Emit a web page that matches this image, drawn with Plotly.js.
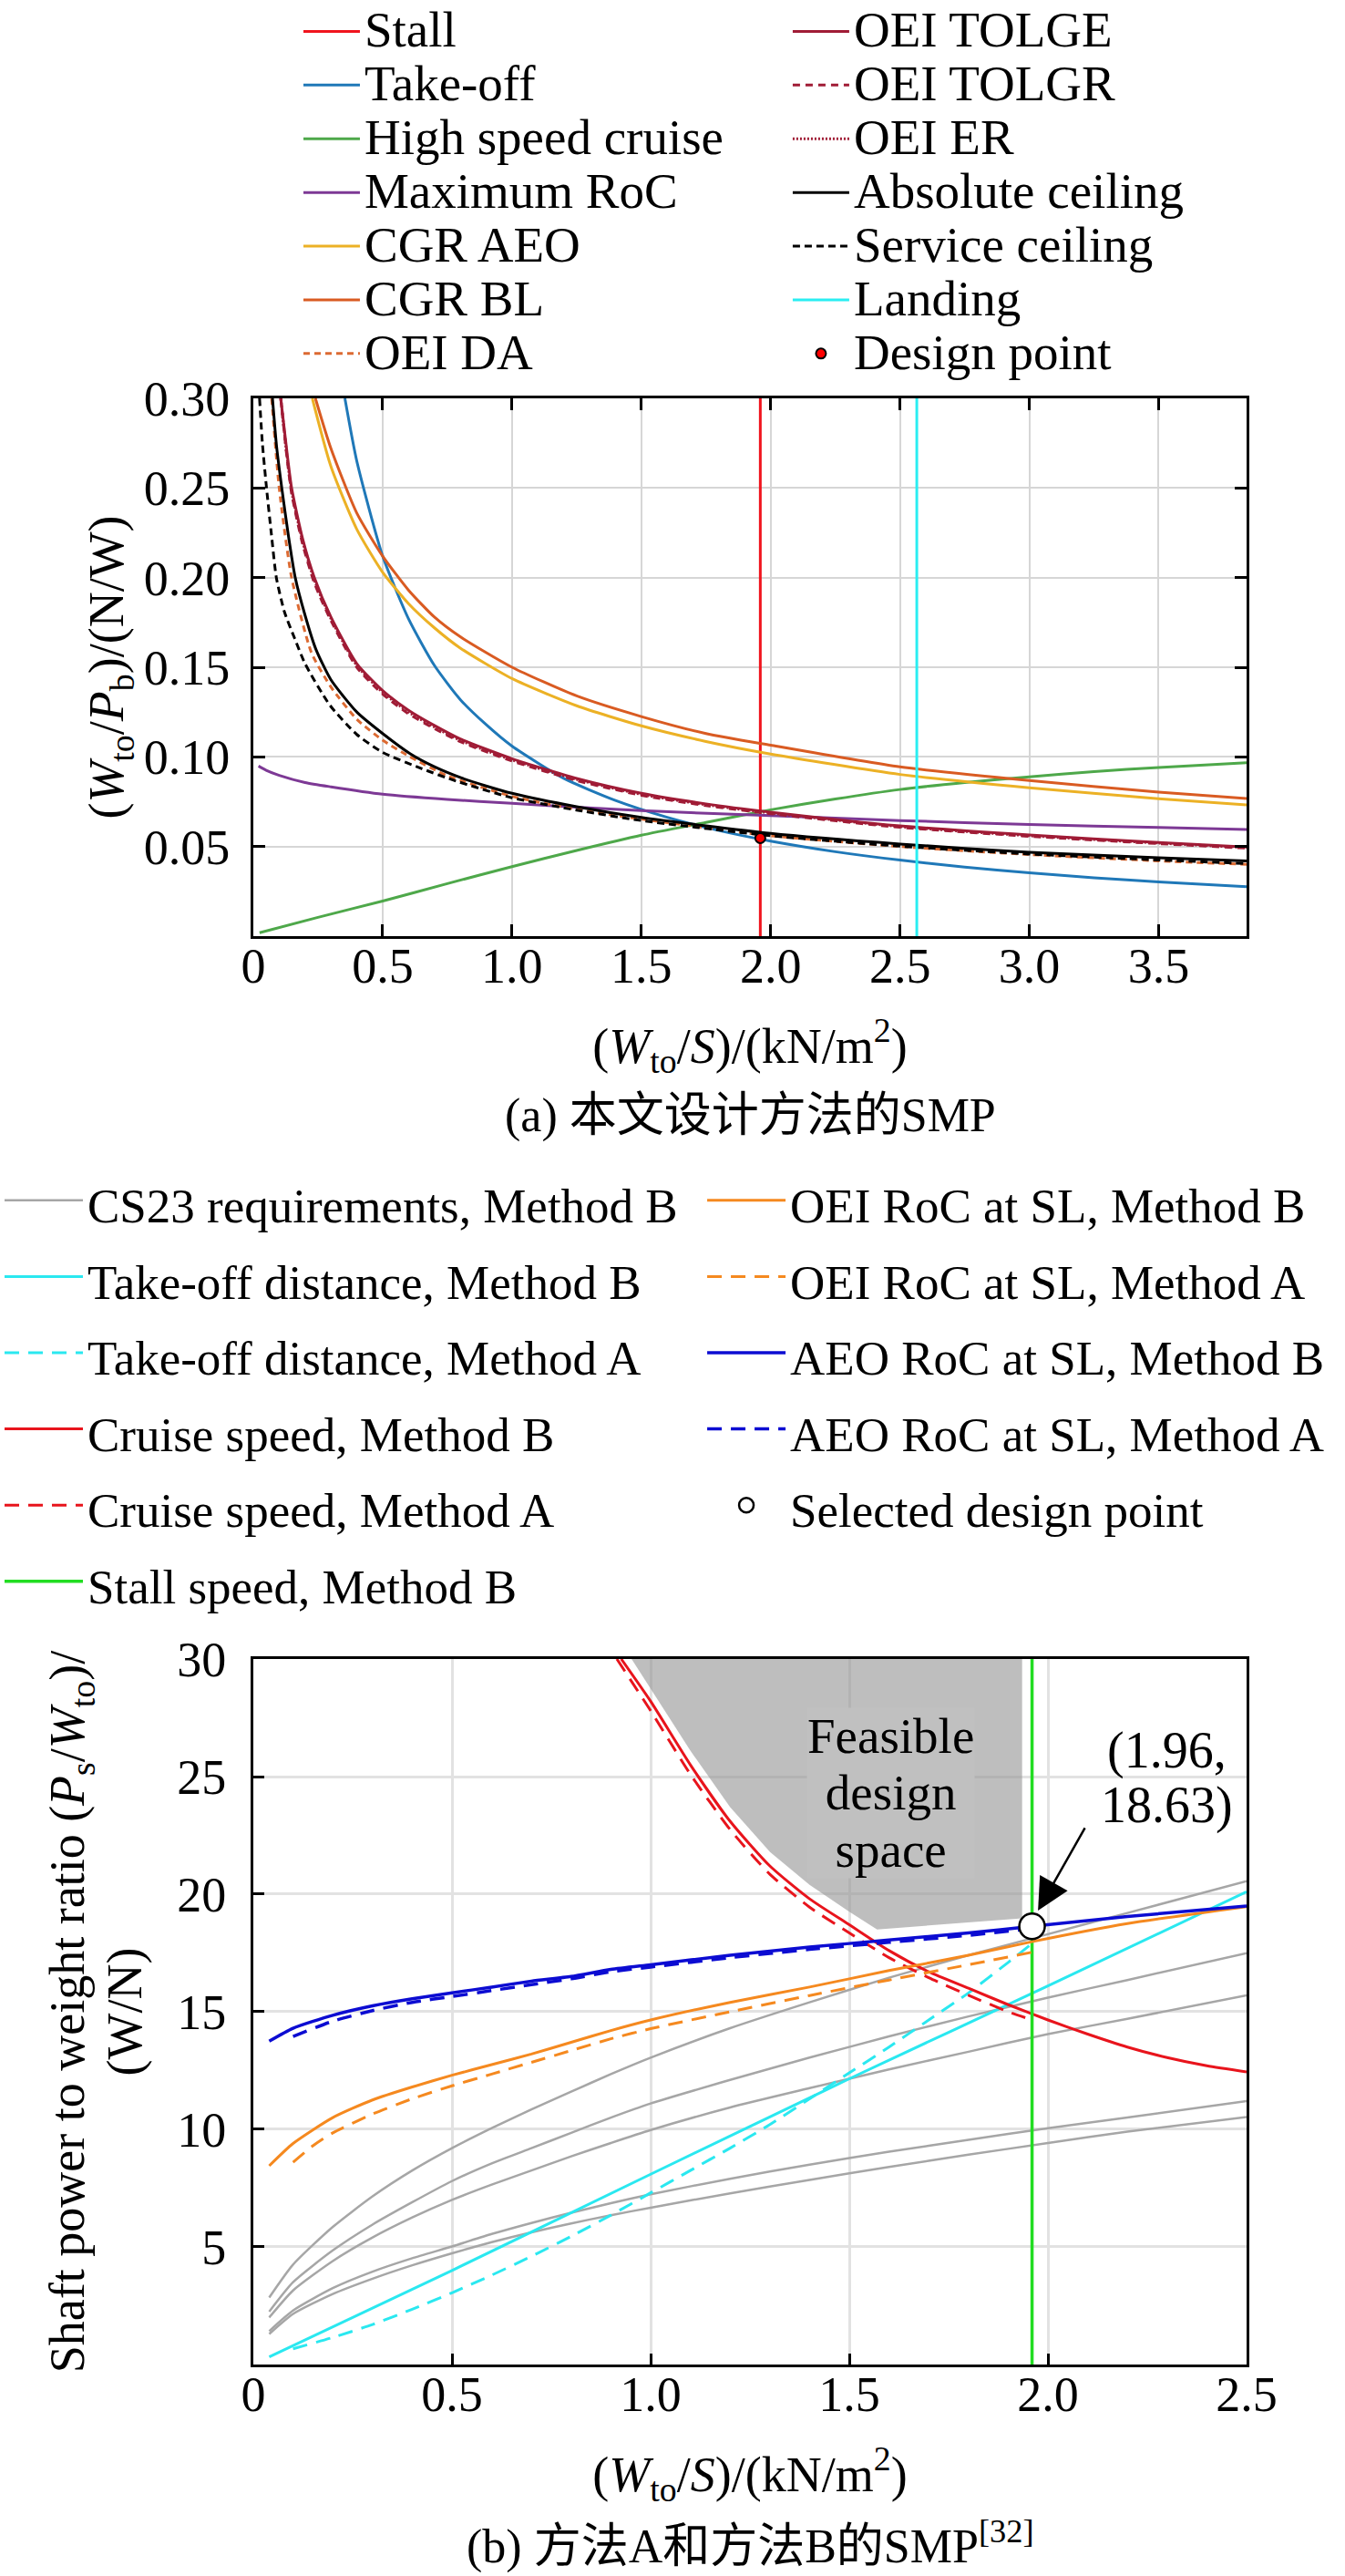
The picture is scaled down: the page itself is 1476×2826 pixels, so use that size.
<!DOCTYPE html>
<html><head><meta charset="utf-8">
<script src="https://cdn.plot.ly/plotly-3.0.1.min.js"></script>
<style>html,body{margin:0;padding:0;background:#fff}#chart{width:1476px;height:2826px}</style>
</head><body><div id="chart"></div>
<script>
// ---------- (a) top chart data ----------
const stallX = [1.96, 1.96];
const stallY = [0, 0.30];
const landingX = [2.565, 2.565];
const landingY = [0, 0.30];
const takeoffX = [0.354,0.4,0.5,0.6,0.7,0.8,0.9,1.0,1.2,1.4,1.6,1.8,2.0,2.25,2.5,2.75,3.0,3.25,3.5,3.84];
const takeoffY = [0.300,0.265,0.212,0.177,0.151,0.132,0.118,0.106,0.088,0.0757,0.0663,0.0589,0.0530,0.0471,0.0424,0.0385,0.0353,0.0326,0.0303,0.0276];
const hscX = [0.024,0.25,0.5,0.75,1.0,1.25,1.5,1.75,2.0,2.25,2.5,2.75,3.0,3.25,3.5,3.84];
const hscY = [0.0019,0.0105,0.0196,0.0293,0.0388,0.0478,0.0563,0.0634,0.0705,0.0765,0.0818,0.0857,0.0889,0.0918,0.0941,0.0968];
const rocX = [0.02,0.05,0.1,0.2,0.3,0.5,0.75,1.0,1.25,1.5,2.0,2.5,3.0,3.5,3.84];
const rocY = [0.0949,0.0925,0.0897,0.0857,0.0833,0.0792,0.0763,0.0741,0.0719,0.0700,0.0672,0.0645,0.0623,0.0606,0.0595];
const cgrAeoX = [0.228,0.3,0.4,0.5,0.6,0.7,0.8,1.0,1.25,1.5,1.75,2.0,2.5,3.0,3.5,3.84];
const cgrAeoY = [0.300,0.262,0.227,0.203,0.1855,0.172,0.1607,0.1437,0.1285,0.1173,0.1086,0.1016,0.0902,0.0828,0.0767,0.0732];
const cgrBlX = [0.24,0.3,0.4,0.5,0.6,0.7,0.8,1.0,1.25,1.5,1.75,2.0,2.5,3.0,3.5,3.84];
const cgrBlY = [0.300,0.272,0.236,0.212,0.193,0.178,0.167,0.150,0.134,0.1225,0.113,0.1065,0.0944,0.0868,0.0803,0.0768];
const oeiDaX = [0.071,0.1,0.148,0.225,0.3,0.4,0.5,0.6,0.75,1.0,1.25,1.5,2.0,2.5,3.0,3.5,3.84];
const oeiDaY = [0.300,0.250,0.200,0.158,0.139,0.121,0.1093,0.1005,0.0895,0.0780,0.0707,0.0653,0.0560,0.0500,0.0455,0.0420,0.0400];
const tolX = [0.106,0.13,0.148,0.19,0.236,0.3,0.4,0.5,0.6,0.7,0.8,1.0,1.25,1.5,1.75,2.0,2.5,3.0,3.5,3.84];
const tolgeY = [0.300,0.270,0.250,0.222,0.200,0.178,0.152,0.137,0.126,0.1175,0.110,0.099,0.088,0.0797,0.0738,0.0692,0.0615,0.0564,0.0522,0.0497];
const tolgrY = [0.300,0.267,0.247,0.219,0.197,0.176,0.150,0.135,0.124,0.1158,0.1085,0.0977,0.0868,0.0786,0.0728,0.0683,0.0607,0.0557,0.0516,0.0491];
const oeiErY = [0.300,0.268,0.248,0.2205,0.1985,0.177,0.151,0.136,0.125,0.1166,0.1092,0.0983,0.0874,0.0791,0.0733,0.0687,0.0611,0.0560,0.0519,0.0494];
const absX = [0.074,0.09,0.11,0.135,0.162,0.2,0.242,0.3,0.4,0.5,0.607,0.7,0.8,0.9,1.0,1.25,1.5,2.0,2.5,3.0,3.5,3.84];
const absY = [0.300,0.273,0.250,0.224,0.200,0.179,0.160,0.143,0.125,0.113,0.1017,0.0945,0.0885,0.0838,0.0797,0.0722,0.0662,0.0573,0.0514,0.0468,0.0437,0.0420];
const svcX = [0.024,0.035,0.051,0.07,0.089,0.12,0.16,0.2,0.296,0.4,0.5,0.65,0.784,1.0,1.25,1.5,2.0,2.5,3.0,3.5,3.84];
const svcY = [0.300,0.275,0.250,0.224,0.200,0.181,0.166,0.152,0.1288,0.1125,0.1025,0.0935,0.0865,0.0772,0.0703,0.0645,0.0560,0.0502,0.0458,0.0425,0.0405];
const designX = [1.96];
const designY = [0.0547];
const ticksAX = [0,0.5,1.0,1.5,2.0,2.5,3.0,3.5];
const ticksAXText = ['0','0.5','1.0','1.5','2.0','2.5','3.0','3.5'];
const ticksAY = [0.05,0.10,0.15,0.20,0.25,0.30];
const ticksAYText = ['0.05','0.10','0.15','0.20','0.25','0.30'];

// ---------- (b) bottom chart data ----------
const feasX = [0.952,1.0,1.1,1.2,1.3,1.4,1.5,1.57,1.935,1.935];
const feasY = [30,28.75,26.1,23.7,21.8,20.4,19.25,18.5,18.97,30];
const csX = [0.04,0.1,0.2,0.3,0.4,0.5,0.6,0.7,0.8,0.9,1.0,1.2,1.4,1.6,1.8,2.0,2.2,2.5];
const cs1Y = [2.85,4.25,5.85,7.15,8.25,9.2,10.05,10.85,11.6,12.35,13.05,14.3,15.4,16.45,17.4,18.3,19.2,20.55];
const cs2Y = [2.25,3.5,4.85,5.95,6.9,7.8,8.55,9.2,9.85,10.5,11.1,12.1,13.05,13.95,14.8,15.6,16.35,17.49];
const cs3Y = [2.0,3.15,4.4,5.4,6.25,7.0,7.65,8.25,8.85,9.42,9.97,10.93,11.75,12.55,13.3,14.05,14.7,15.7];
const cs4Y = [1.42,2.3,3.25,3.95,4.52,5.02,5.55,6.02,6.45,6.86,7.24,7.9,8.5,9.05,9.55,10.05,10.5,11.2];
const cs5Y = [1.3,2.15,3.0,3.65,4.22,4.73,5.2,5.62,6.0,6.35,6.67,7.28,7.85,8.4,8.92,9.42,9.9,10.52];
const todBX = [0.04,0.5,1.0,1.5,2.0,2.5];
const todBY = [0.32,4.0,8.09,12.15,16.1,20.1];
const todAX = [0.1,0.2,0.3,0.4,0.5,0.6,0.7,0.8,0.9,1.0,1.1,1.2,1.3,1.4,1.5,1.6,1.7,1.8,1.9,1.96];
const todAY = [0.67,1.15,1.7,2.35,3.05,3.8,4.6,5.45,6.35,7.3,8.25,9.2,10.2,11.3,12.4,13.5,14.65,15.8,17.1,17.9];
const cruiseBX = [0.926,1.0,1.1,1.2,1.3,1.4,1.5,1.6,1.7,1.8,1.9,2.0,2.1,2.2,2.3,2.4,2.5];
const cruiseBY = [30,28.2,25.5,23.1,21.2,19.8,18.7,17.6,16.7,16.0,15.3,14.65,14.05,13.5,13.05,12.7,12.44];
const cruiseAX = [0.915,1.0,1.1,1.2,1.3,1.4,1.5,1.6,1.7,1.8,1.9,1.96];
const cruiseAY = [30,27.8,25.1,22.75,20.85,19.45,18.35,17.3,16.45,15.7,15.0,14.65];
const stallBX = [1.96, 1.96];
const stallBY = [0, 30];
const oeiBX = [0.04,0.1,0.2,0.3,0.4,0.5,0.6,0.7,0.8,0.9,1.0,1.2,1.4,1.6,1.8,1.96,2.2,2.5];
const oeiBY = [8.45,9.4,10.5,11.25,11.8,12.3,12.75,13.2,13.7,14.2,14.65,15.4,16.05,16.75,17.4,17.98,18.75,19.47];
const oeiAX = [0.1,0.15,0.2,0.3,0.4,0.5,0.6,0.7,0.8,0.9,1.0,1.2,1.4,1.6,1.8,1.96];
const oeiAY = [8.6,9.3,9.85,10.65,11.3,11.85,12.35,12.85,13.35,13.85,14.28,15.0,15.69,16.35,17.0,17.53];
const aeoBX = [0.04,0.1,0.2,0.3,0.4,0.5,0.6,0.7,0.8,0.9,1.0,1.2,1.4,1.6,1.8,1.96,2.2,2.5];
const aeoBY = [13.75,14.3,14.85,15.25,15.55,15.8,16.05,16.3,16.5,16.8,17.0,17.4,17.75,18.05,18.35,18.63,19.05,19.5];
const aeoAX = [0.1,0.2,0.3,0.4,0.5,0.6,0.7,0.8,0.9,1.0,1.2,1.4,1.6,1.8,1.94];
const aeoAY = [13.95,14.6,15.05,15.4,15.65,15.9,16.15,16.4,16.7,16.9,17.3,17.65,17.95,18.25,18.5];
const selX = [1.96];
const selY = [18.63];
const ticksBX = [0,0.5,1.0,1.5,2.0,2.5];
const ticksBXText = ['0','0.5','1.0','1.5','2.0','2.5'];
const ticksBY = [5,10,15,20,25,30];

// ---------- styling ----------
const F = '"Liberation Serif", "Times New Roman", "Noto Sans CJK SC", serif';
const sz = (px, s) => '<span style="font-size:' + px + 'px">' + s + '</span>';
const LA = s => sz(55, s);
const LB = s => sz(53, s);
const sp = {shape:'spline', smoothing:0.6};

function tr(x, y, name, color, width, dash, legend, axes, extra) {
  const t = {x:x, y:y, name:name, type:'scatter', mode:'lines',
    line:Object.assign({color:color, width:width, dash:dash||'solid'}, sp),
    legend:legend, xaxis:axes[0], yaxis:axes[1], hoverinfo:'skip'};
  return Object.assign(t, extra||{});
}
const A = ['x','y'], B = ['x2','y2'];

const traces = [
  tr(stallX, stallY, LA('Stall'), '#f0141e', 3, 'solid', 'legend', A, {line:{color:'#f0141e', width:3}}),
  tr(takeoffX, takeoffY, LA('Take-off'), '#1f78b8', 3, 'solid', 'legend', A),
  tr(hscX, hscY, LA('High speed cruise'), '#4ea84a', 3, 'solid', 'legend', A),
  tr(rocX, rocY, LA('Maximum RoC'), '#7d3995', 3, 'solid', 'legend', A),
  tr(cgrAeoX, cgrAeoY, LA('CGR AEO'), '#ecb125', 3, 'solid', 'legend', A),
  tr(cgrBlX, cgrBlY, LA('CGR BL'), '#d95b22', 3, 'solid', 'legend', A),
  tr(oeiDaX, oeiDaY, LA('OEI DA'), '#dc6a32', 3, '7px,5px', 'legend', A),
  tr(tolX, tolgeY, LA('OEI TOLGE'), '#a01c36', 3, 'solid', 'legend2', A),
  tr(tolX, tolgrY, LA('OEI TOLGR'), '#a01c36', 3, '8px,6px', 'legend2', A),
  tr(tolX, oeiErY, LA('OEI ER'), '#a01c36', 3, '2px,2px', 'legend2', A),
  tr(absX, absY, LA('Absolute ceiling'), '#000000', 3, 'solid', 'legend2', A),
  tr(svcX, svcY, LA('Service ceiling'), '#000000', 3, '8px,5px', 'legend2', A),
  tr(landingX, landingY, LA('Landing'), '#2aeef2', 3, 'solid', 'legend2', A, {line:{color:'#2aeef2', width:3}}),
  {x:designX, y:designY, name:LA('Design point'), type:'scatter', mode:'markers', legend:'legend2',
   xaxis:'x', yaxis:'y', hoverinfo:'skip',
   marker:{color:'#ff0000', size:11, line:{color:'#000', width:2}}},

  // bottom chart
  {x:feasX, y:feasY, type:'scatter', mode:'lines', fill:'toself', fillcolor:'rgba(150,150,150,0.62)',
   line:{width:0, color:'rgba(0,0,0,0)'}, showlegend:false, xaxis:'x2', yaxis:'y2', hoverinfo:'skip'},
  tr(csX, cs1Y, LB('CS23 requirements, Method B'), '#a6a6a6', 2.5, 'solid', 'legend3', B, {legendgroup:'cs'}),
  tr(csX, cs2Y, 'cs2', '#a6a6a6', 2.5, 'solid', 'legend3', B, {legendgroup:'cs', showlegend:false}),
  tr(csX, cs3Y, 'cs3', '#a6a6a6', 2.5, 'solid', 'legend3', B, {legendgroup:'cs', showlegend:false}),
  tr(csX, cs4Y, 'cs4', '#a6a6a6', 2.5, 'solid', 'legend3', B, {legendgroup:'cs', showlegend:false}),
  tr(csX, cs5Y, 'cs5', '#a6a6a6', 2.5, 'solid', 'legend3', B, {legendgroup:'cs', showlegend:false}),
  tr(todBX, todBY, LB('Take-off distance, Method B'), '#2ae8f0', 3, 'solid', 'legend3', B),
  tr(todAX, todAY, LB('Take-off distance, Method A'), '#2ae8f0', 3, '16px,10px', 'legend3', B),
  tr(cruiseBX, cruiseBY, LB('Cruise speed, Method B'), '#e8141c', 3, 'solid', 'legend3', B),
  tr(cruiseAX, cruiseAY, LB('Cruise speed, Method A'), '#e8141c', 3, '16px,10px', 'legend3', B),
  tr(stallBX, stallBY, LB('Stall speed, Method B'), '#22dd22', 3.5, 'solid', 'legend3', B, {line:{color:'#22dd22', width:3.5}}),
  tr(oeiBX, oeiBY, LB('OEI RoC at SL, Method B'), '#f5891f', 3, 'solid', 'legend4', B),
  tr(oeiAX, oeiAY, LB('OEI RoC at SL, Method A'), '#f5891f', 3, '16px,10px', 'legend4', B),
  tr(aeoBX, aeoBY, LB('AEO RoC at SL, Method B'), '#0c0cd2', 3.5, 'solid', 'legend4', B),
  tr(aeoAX, aeoAY, LB('AEO RoC at SL, Method A'), '#0c0cd2', 3.5, '16px,10px', 'legend4', B),
  {x:selX, y:selY, name:LB('Selected design point'), type:'scatter', mode:'markers', legend:'legend4',
   xaxis:'x2', yaxis:'y2', hoverinfo:'skip',
   marker:{color:'#ffffff', size:28, line:{color:'#000', width:2.5}}}
];

const tickFont = {family:F, size:54, color:'#000'};
const titleFont = {family:F, size:54, color:'#000'};
const axA = {showline:true, linewidth:3, linecolor:'#000', ticks:'inside', ticklen:13, tickwidth:3,
  tickcolor:'#000', mirror:'ticks', showgrid:true, gridcolor:'#d6d6d6', gridwidth:2, zeroline:false,
  tickfont:tickFont};
const axB = {showline:true, linewidth:3, linecolor:'#000', ticks:'inside', ticklen:12, tickwidth:3,
  tickcolor:'#000', mirror:true, showgrid:true, gridcolor:'#e2e2e2', gridwidth:3, zeroline:false,
  tickfont:tickFont};

const legendBase = {orientation:'v', bgcolor:'rgba(0,0,0,0)', borderwidth:0, xanchor:'left', yanchor:'top',
  traceorder:'normal'};

const layout = {
  width:1476, height:2826,
  margin:{l:0, r:0, t:0, b:0, autoexpand:false},
  paper_bgcolor:'#fff', plot_bgcolor:'#fff',
  font:{family:F, color:'#000'},
  xaxis:Object.assign({}, axA, {domain:[0.18835, 0.92683], range:[0, 3.84], anchor:'y',
    tickvals:ticksAX, ticktext:ticksAXText, ticklabelstandoff:-17,
    title:{text:'(<i>W</i><sub>to</sub>/<i>S</i>)/(kN/m<sup>2</sup>)', font:titleFont, standoff:40}}),
  yaxis:Object.assign({}, axA, {domain:[0.63659, 0.84536], range:[0, 0.30], anchor:'x',
    tickvals:ticksAY, ticktext:ticksAYText, ticklabelstandoff:12,
    title:{text:'(<i>W</i><sub>to</sub>/<i>P</i><sub>b</sub>)/(N/W)', font:titleFont, standoff:5}}),
  xaxis2:Object.assign({}, axB, {domain:[0.18835, 0.92683], range:[0, 2.5], anchor:'y2',
    tickvals:ticksBX, ticktext:ticksBXText, ticklabelstandoff:-17,
    title:{text:'(<i>W</i><sub>to</sub>/<i>S</i>)/(kN/m<sup>2</sup>)', font:titleFont, standoff:40}}),
  yaxis2:Object.assign({}, axB, {domain:[0.08210, 0.35598], range:[0, 30], anchor:'x2',
    tickvals:ticksBY, ticklabelstandoff:16,
    title:{text:sz(54, 'Shaft power to weight ratio (<i>P</i><sub>s</sub>/<i>W</i><sub>to</sub>)/') + '<br>' + sz(54, '(W/N)'),
      font:{family:F, size:48, color:'#000'}, standoff:24}}),
  legend:Object.assign({}, legendBase, {x:0.2222, y:1.0, font:{family:F, size:43, color:'#000'}, itemwidth:62}),
  legend2:Object.assign({}, legendBase, {x:0.586, y:1.0, font:{family:F, size:43, color:'#000'}, itemwidth:62}),
  legend3:Object.assign({}, legendBase, {x:0.0, y:0.5506, font:{family:F, size:62, color:'#000'}, itemwidth:86}),
  legend4:Object.assign({}, legendBase, {x:0.5224, y:0.5506, font:{family:F, size:62, color:'#000'}, itemwidth:86}),
  annotations:[
    {xref:'paper', yref:'paper', x:0.5576, y:0.56688, xanchor:'center', yanchor:'middle', showarrow:false,
     text:'(a) 本文设计方法的SMP', font:{family:F, size:52, color:'#000'}},
    {xref:'paper', yref:'paper', x:0.5576, y:0.01274, xanchor:'center', yanchor:'middle', showarrow:false,
     text:'(b) 方法A和方法B的SMP<sup>[32]</sup>', font:{family:F, size:52, color:'#000'}},
    {xref:'x2', yref:'y2', x:1.605, y:24.3, showarrow:false,
     text:sz(55,'Feasible') + '<br>' + sz(55,'design') + '<br>' + sz(55,'space'),
     font:{family:F, size:48, color:'#000'}, bgcolor:'#c0c0c0', borderpad:0},
    {xref:'x2', yref:'y2', x:2.30, y:24.95, showarrow:false,
     text:sz(56,'(1.96,') + '<br>' + sz(56,'18.63)'),
     font:{family:F, size:46, color:'#000'}},
    {xref:'x2', yref:'y2', axref:'x2', ayref:'y2', x:1.975, y:19.3, ax:2.095, ay:22.87,
     text:'', showarrow:true, arrowhead:2, arrowsize:2.8, arrowwidth:2.5, arrowcolor:'#000', standoff:0}
  ]
};

Plotly.newPlot('chart', traces, layout, {staticPlot:true, displayModeBar:false});
</script></body></html>
